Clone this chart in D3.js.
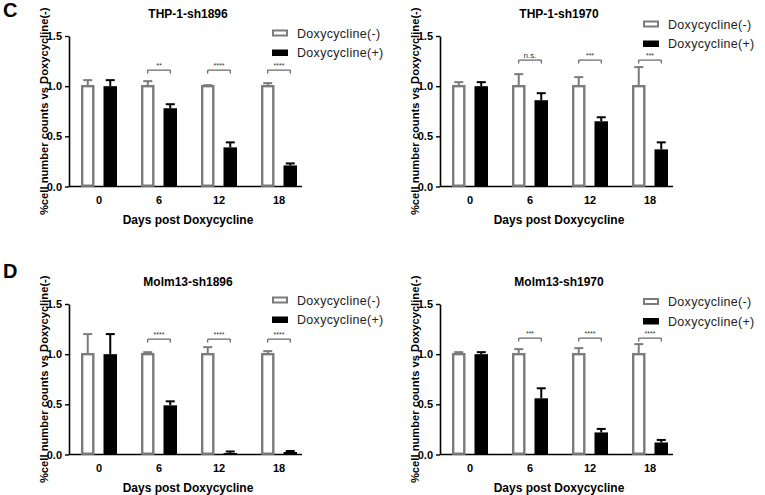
<!DOCTYPE html>
<html><head><meta charset="utf-8">
<script src="https://cdn.jsdelivr.net/npm/d3@7"></script>
<style>
html,body{margin:0;padding:0;background:#fff;}
svg{display:block;font-family:Arial,"Liberation Sans",sans-serif;}
</style></head>
<body><svg id="chart" width="765" height="495"></svg>
<script>
// ---- data ----
const days = ["0", "6", "12", "18"];
const seriesNames = ["Doxycycline(-)", "Doxycycline(+)"];
const panelTitles = ["THP-1-sh1896", "THP-1-sh1970", "Molm13-sh1896", "Molm13-sh1970"];
const yTicks = [0, 0.5, 1.0, 1.5];
const xLabel = "Days post Doxycycline";
const yLabel = "%cell number counts vs Doxycycline(-)";

const thp1896Minus = [1, 1, 1, 1];
const thp1896MinusErr = [0.06, 0.05, 0.01, 0.03];
const thp1896Plus = [1, 0.78, 0.39, 0.21];
const thp1896PlusErr = [0.06, 0.04, 0.05, 0.02];
const thp1896Sig = ["", "**", "****", "****"];

const thp1970Minus = [1, 1, 1, 1];
const thp1970MinusErr = [0.04, 0.12, 0.09, 0.19];
const thp1970Plus = [1, 0.86, 0.65, 0.37];
const thp1970PlusErr = [0.04, 0.07, 0.04, 0.07];
const thp1970Sig = ["", "n.s.", "***", "***"];

const molm1896Minus = [1, 1, 1, 1];
const molm1896MinusErr = [0.2, 0.02, 0.07, 0.03];
const molm1896Plus = [1, 0.49, 0.015, 0.025];
const molm1896PlusErr = [0.2, 0.04, 0.015, 0.01];
const molm1896Sig = ["", "****", "****", "****"];

const molm1970Minus = [1, 1, 1, 1];
const molm1970MinusErr = [0.02, 0.05, 0.06, 0.1];
const molm1970Plus = [1, 0.56, 0.22, 0.12];
const molm1970PlusErr = [0.02, 0.1, 0.035, 0.025];
const molm1970Sig = ["", "***", "****", "****"];

const bracketLevels = [1.16, 1.26, 1.15, 1.16];

// ---- layout ----
const panels = [
  {title: panelTitles[0], minus: thp1896Minus, minusErr: thp1896MinusErr, plus: thp1896Plus, plusErr: thp1896PlusErr, sig: thp1896Sig, br: bracketLevels[0], ox: 0, oy: 0, legY: 33},
  {title: panelTitles[1], minus: thp1970Minus, minusErr: thp1970MinusErr, plus: thp1970Plus, plusErr: thp1970PlusErr, sig: thp1970Sig, br: bracketLevels[1], ox: 371, oy: 0, legY: 24},
  {title: panelTitles[2], minus: molm1896Minus, minusErr: molm1896MinusErr, plus: molm1896Plus, plusErr: molm1896PlusErr, sig: molm1896Sig, br: bracketLevels[2], ox: 0, oy: 268, legY: 32},
  {title: panelTitles[3], minus: molm1970Minus, minusErr: molm1970MinusErr, plus: molm1970Plus, plusErr: molm1970PlusErr, sig: molm1970Sig, br: bracketLevels[3], ox: 371, oy: 268, legY: 33.5}
];

const GREY = "#7b7b7b";
const svg = d3.select("#chart");

svg.append("text").attr("x", 3).attr("y", 17).attr("font-size", 20).attr("font-weight", "bold").text("C");
svg.append("text").attr("x", 3).attr("y", 278).attr("font-size", 20).attr("font-weight", "bold").text("D");

const x = d3.scaleBand().domain(days).range([69, 309]).paddingInner(0).paddingOuter(0);
const xs = d3.scaleBand().domain(seriesNames).range([0, x.bandwidth()]).paddingInner(0.4).paddingOuter(0.533);
const y = d3.scaleLinear().domain([0, 1.5]).range([186.5, 36]);
const xEnd = 302;

panels.forEach(p => {
  const g = svg.append("g").attr("transform", `translate(${p.ox},${p.oy})`);

  // title
  g.append("text").attr("x", 188).attr("y", 17.5).attr("text-anchor", "middle")
    .attr("font-size", 12).attr("font-weight", "bold").text(p.title);

  // y axis
  const ya = g.append("g").attr("transform", "translate(69,0)")
    .call(d3.axisLeft(y).tickValues(yTicks).tickFormat(d3.format(".1f")).tickSize(4).tickSizeOuter(0).tickPadding(3));
  ya.select(".domain").attr("stroke", "#000").attr("stroke-width", 1.6);
  ya.selectAll(".tick line").attr("stroke", "#000").attr("stroke-width", 1.4);
  ya.selectAll(".tick text").attr("font-size", 11).attr("font-weight", "bold").attr("fill", "#000")
    .attr("font-family", "Arial, 'Liberation Sans', sans-serif");

  // x axis
  const xa = g.append("g").attr("transform", `translate(0,${y(0)})`)
    .call(d3.axisBottom(x).tickSize(0).tickPadding(10));
  xa.select(".domain").attr("d", `M69,0H${xEnd}`).attr("stroke", "#000").attr("stroke-width", 1.6);
  xa.selectAll(".tick text").attr("font-size", 11).attr("font-weight", "bold").attr("fill", "#000")
    .attr("font-family", "Arial, 'Liberation Sans', sans-serif");

  // axis labels
  g.append("text").attr("x", 188).attr("y", 224).attr("text-anchor", "middle")
    .attr("font-size", 12).attr("font-weight", "bold").text(xLabel);
  g.append("text").attr("transform", `translate(47.5,${(y(0) + y(1.5)) / 2}) rotate(-90)`)
    .attr("text-anchor", "middle").attr("font-size", 11.2).attr("font-weight", "bold").text(yLabel);

  const bw = xs.bandwidth();
  const rows = days.map((d, i) => ({d, i}));

  // minus bars (white, grey outline)
  const sw = 2.4;
  g.selectAll(".barM").data(rows).enter().append("rect")
    .attr("x", r => x(r.d) + xs(seriesNames[0]) + sw / 2)
    .attr("y", r => y(p.minus[r.i]))
    .attr("width", bw - sw)
    .attr("height", r => y(0) - y(p.minus[r.i]) - 0.8)
    .attr("fill", "#fff").attr("stroke", GREY).attr("stroke-width", sw);
  // plus bars (black)
  g.selectAll(".barP").data(rows).enter().append("rect")
    .attr("x", r => x(r.d) + xs(seriesNames[1]))
    .attr("y", r => y(p.plus[r.i]))
    .attr("width", bw)
    .attr("height", r => y(0) - y(p.plus[r.i]))
    .attr("fill", "#000");

  // error bars
  const cap = 4.5;
  [[p.minus, p.minusErr, seriesNames[0], GREY], [p.plus, p.plusErr, seriesNames[1], "#000"]].forEach(([vals, errs, s, col]) => {
    rows.forEach(r => {
      const cx = x(r.d) + xs(s) + bw / 2;
      const yTop = y(vals[r.i] + errs[r.i]);
      g.append("line").attr("x1", cx).attr("x2", cx).attr("y1", y(vals[r.i])).attr("y2", yTop)
        .attr("stroke", col).attr("stroke-width", 2);
      g.append("line").attr("x1", cx - cap).attr("x2", cx + cap).attr("y1", yTop).attr("y2", yTop)
        .attr("stroke", col).attr("stroke-width", 2);
    });
  });

  // significance brackets
  rows.filter(r => p.sig[r.i] !== "").forEach(r => {
    const x1 = x(r.d) + xs(seriesNames[0]) + bw / 2;
    const x2 = x(r.d) + xs(seriesNames[1]) + bw / 2;
    const by = y(p.br);
    g.append("path").attr("d", `M${x1},${by + 3.5}V${by}H${x2}V${by + 3.5}`)
      .attr("fill", "none").attr("stroke", "#444").attr("stroke-width", 1);
    g.append("text").attr("x", (x1 + x2) / 2).attr("y", by - 2).attr("text-anchor", "middle")
      .attr("font-size", p.sig[r.i] === "n.s." ? 8 : 7).attr("fill", "#333").text(p.sig[r.i]);
  });

  // legend
  const legX = 272;
  seriesNames.forEach((s, k) => {
    const ly = p.legY + k * 19.5;
    if (k === 0) {
      g.append("rect").attr("x", legX + 1).attr("y", ly - 2.5).attr("width", 14).attr("height", 5)
        .attr("fill", "#fff").attr("stroke", GREY).attr("stroke-width", 2);
    } else {
      g.append("rect").attr("x", legX).attr("y", ly - 3).attr("width", 16).attr("height", 6.5).attr("fill", "#000");
    }
    g.append("text").attr("x", 297).attr("y", ly).attr("dy", "0.36em")
      .attr("font-size", 12.5).attr("letter-spacing", 0.3).attr("fill", "#222").text(s);
  });
});
</script>
</body></html>
